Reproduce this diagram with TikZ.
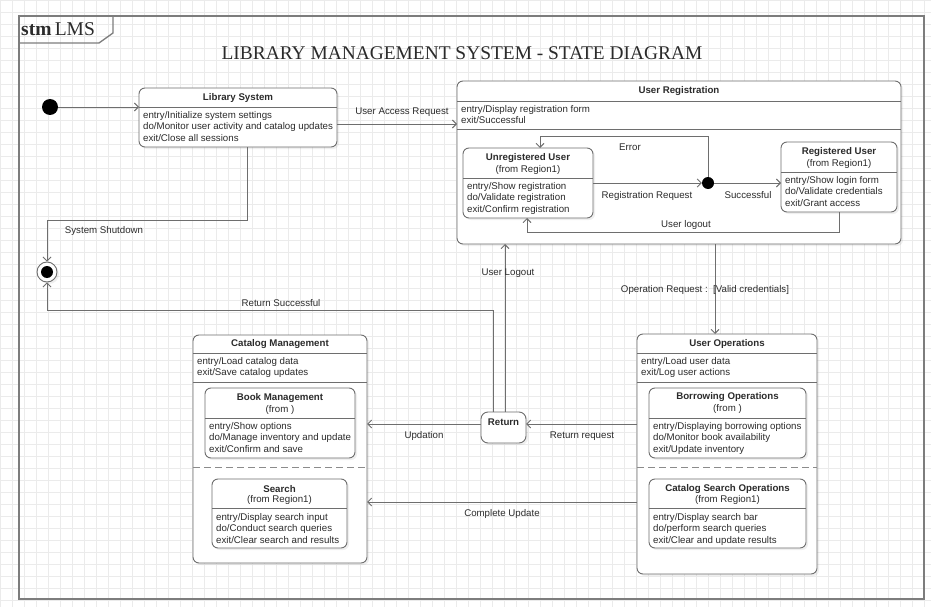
\documentclass[tikz,border=0pt]{standalone}
\usepackage{fontspec}
\setmainfont{Liberation Serif}
\setsansfont{Liberation Sans}
\usetikzlibrary{arrows.meta,shadows}
\definecolor{linec}{HTML}{6E6E6E}
\definecolor{txtc}{HTML}{2B2B2B}
\definecolor{gridc}{HTML}{EBEBEB}

\begin{document}
\begin{tikzpicture}[x=1pt,y=-1pt,
  stbox/.style={draw=linec, fill=white, rounded corners=6pt, line width=0.9pt,
    anchor=north west, inner sep=0pt, outer sep=0pt,
    drop shadow={opacity=0.12, shadow xshift=2pt, shadow yshift=-2pt}},
  sep/.style={draw=linec, line width=0.8pt},
  dsep/.style={draw=linec!80, line width=0.9pt, dash pattern=on 7pt off 4pt},
  ttl/.style={font=\sffamily\bfseries\fontsize{9.7}{11}\selectfont, text=txtc, inner sep=0pt},
  subttl/.style={font=\sffamily\fontsize{9.7}{11}\selectfont, text=txtc, inner sep=0pt, align=center},
  comp/.style={anchor=north west, inner sep=0pt, align=left,
    font=\sffamily\fontsize{9.7}{11.6}\selectfont, text=txtc},
  lbl/.style={font=\sffamily\fontsize{9.7}{11}\selectfont, text=txtc, inner sep=0pt},
  trans/.style={draw=linec, line width=0.9pt, -{Straight Barb[length=4pt,width=8pt]}},
  frame/.style={draw=linec!90, line width=1.3pt}
]
\useasboundingbox (0,0) rectangle (931,607);
\fill[white] (0,0) rectangle (931,607);
\draw[gridc, line width=0.5pt] (0,0) grid[step=12pt] (931,607);

% frame
\draw[frame] (19,16) rectangle (924,599);
\draw[frame] (19,43) -- (99,43) -- (113,33) -- (113,16);
\node[anchor=west, inner sep=0pt, font=\fontsize{19.5}{21}\selectfont, text=txtc] (stm) at (21,29.5) {\textbf{stm}\,LMS};
\node[inner sep=0pt, font=\fontsize{19.4}{21}\selectfont, text=txtc] (title) at (462,53) {LIBRARY MANAGEMENT SYSTEM - STATE DIAGRAM};

% pseudo states
\node[shape=circle, fill=black, minimum size=16pt, inner sep=0pt] (init) at (50,107) {};
\node[shape=circle, draw=linec, fill=white, line width=0.9pt, minimum size=20pt, inner sep=0pt,
  drop shadow={opacity=0.12, shadow xshift=2pt, shadow yshift=-2pt}] (final) at (47,272) {};
\node[shape=circle, fill=black, minimum size=12pt, inner sep=0pt] (finaldot) at (47,272) {};

% Library System
\node[stbox, minimum width=198pt, minimum height=59pt] (lib) at (139,88) {};
\node[ttl] (libttl) at (238,97.5) {Library System};
\draw[sep] ([yshift=-19pt]lib.north west) -- ([yshift=-19pt]lib.north east);
\node[comp] (libtxt) at (143,111) {entry/Initialize system settings\\do/Monitor user activity and catalog updates\\exit/Close all sessions};

% User Registration
\node[stbox, minimum width=444pt, minimum height=163pt] (ur) at (457,81) {};
\node[ttl] (urttl) at (679,91) {User Registration};
\draw[sep] ([yshift=-20pt]ur.north west) -- ([yshift=-20pt]ur.north east);
\node[comp] (urtxt) at (461,105) {entry/Display registration form\\exit/Successful};
\draw[sep] ([yshift=-48pt]ur.north west) -- ([yshift=-48pt]ur.north east);

\node[stbox, minimum width=130pt, minimum height=70pt] (unreg) at (463,148) {};
\node[ttl] (unregttl) at (528,158) {Unregistered User};
\node[subttl] (unregsub) at (528,169.5) {(from Region1)};
\draw[sep] ([yshift=-30pt]unreg.north west) -- ([yshift=-30pt]unreg.north east);
\node[comp] (unregtxt) at (467,182) {entry/Show registration\\do/Validate registration\\exit/Confirm registration};

\node[shape=circle, fill=black, minimum size=12pt, inner sep=0pt] (junc) at (708,183) {};

\node[stbox, minimum width=116pt, minimum height=70pt] (reg) at (781,142) {};
\node[ttl] (regttl) at (839,152) {Registered User};
\node[subttl] (regsub) at (839,163.5) {(from Region1)};
\draw[sep] ([yshift=-30pt]reg.north west) -- ([yshift=-30pt]reg.north east);
\node[comp] (regtxt) at (785,176) {entry/Show login form\\do/Validate credentials\\exit/Grant access};

% Catalog Management
\node[stbox, minimum width=174pt, minimum height=228pt] (catm) at (193,335) {};
\node[ttl] (catmttl) at (280,344) {Catalog Management};
\draw[sep] ([yshift=-18pt]catm.north west) -- ([yshift=-18pt]catm.north east);
\node[comp] (catmtxt) at (197,357) {entry/Load catalog data\\exit/Save catalog updates};
\draw[sep] ([yshift=-47pt]catm.north west) -- ([yshift=-47pt]catm.north east);
\draw[dsep] ([yshift=-132pt]catm.north west) -- ([yshift=-132pt]catm.north east);

\node[stbox, minimum width=150pt, minimum height=70pt] (book) at (205,388) {};
\node[ttl] (bookttl) at (280,398) {Book Management};
\node[subttl] (booksub) at (280,409.5) {(from )};
\draw[sep] ([yshift=-30pt]book.north west) -- ([yshift=-30pt]book.north east);
\node[comp] (booktxt) at (209,422) {entry/Show options\\do/Manage inventory and update\\exit/Confirm and save};

\node[stbox, minimum width=135pt, minimum height=69pt] (search) at (212,479) {};
\node[ttl] (searchttl) at (279.5,489) {Search};
\node[subttl] (searchsub) at (279.5,500) {(from Region1)};
\draw[sep] ([yshift=-29pt]search.north west) -- ([yshift=-29pt]search.north east);
\node[comp] (searchtxt) at (216,513) {entry/Display search input\\do/Conduct search queries\\exit/Clear search and results};

% User Operations
\node[stbox, minimum width=180pt, minimum height=240pt] (uops) at (637,334) {};
\node[ttl] (uopsttl) at (727,344) {User Operations};
\draw[sep] ([yshift=-19pt]uops.north west) -- ([yshift=-19pt]uops.north east);
\node[comp] (uopstxt) at (641,357) {entry/Load user data\\exit/Log user actions};
\draw[sep] ([yshift=-48pt]uops.north west) -- ([yshift=-48pt]uops.north east);
\draw[dsep] ([yshift=-133pt]uops.north west) -- ([yshift=-133pt]uops.north east);

\node[stbox, minimum width=157pt, minimum height=70pt] (borrow) at (649,388) {};
\node[ttl] (borrowttl) at (727.5,397.5) {Borrowing Operations};
\node[subttl] (borrowsub) at (727.5,409) {(from )};
\draw[sep] ([yshift=-30pt]borrow.north west) -- ([yshift=-30pt]borrow.north east);
\node[comp] (borrowtxt) at (653,422) {entry/Displaying borrowing options\\do/Monitor book availability\\exit/Update inventory};

\node[stbox, minimum width=157pt, minimum height=69pt] (csearch) at (649,479) {};
\node[ttl] (csearchttl) at (727.5,489) {Catalog Search Operations};
\node[subttl] (csearchsub) at (727.5,500) {(from Region1)};
\draw[sep] ([yshift=-29pt]csearch.north west) -- ([yshift=-29pt]csearch.north east);
\node[comp] (csearchtxt) at (653,513) {entry/Display search bar\\do/perform search queries\\exit/Clear and update results};

% Return
\node[stbox, rounded corners=7pt, minimum width=45pt, minimum height=31pt] (ret) at (481,412) {};
\node[ttl] (retttl) at (503.5,422.5) {Return};

% bend points
\coordinate (uarc) at (0,124);
\coordinate (errc) at (540,136);
\coordinate (lgc) at (527,232);
\coordinate (sdc) at (247,220);
\coordinate (rsc) at (493,310);
\coordinate (ulc) at (505,0);
\coordinate (orc) at (715,0);
\coordinate (rrc) at (0,424);
\coordinate (cuc) at (0,502);

% transitions
\path[trans] (init.east) -- (lib.west |- init.east);
\path[trans] (lib.east |- uarc) -- (ur.west |- uarc);
\path[trans] (unreg.east |- junc) -- (junc.west);
\path[trans] (junc.east) -- (reg.west |- junc);
\path[trans] (junc.north) |- (errc) -- (errc |- unreg.north);
\path[trans] (reg.south) |- (lgc) -- (lgc |- unreg.south);
\path[trans] (sdc |- lib.south) -- (sdc) -| (final.north);
\path[trans] (rsc |- ret.north) -- (rsc) -| (final.south);
\path[trans] (ulc |- ret.north) -- (ulc |- ur.south);
\path[trans] (orc |- ur.south) -- (orc |- uops.north);
\path[trans] (uops.west |- rrc) -- (ret.east |- rrc);
\path[trans] (ret.west |- rrc) -- (catm.east |- rrc);
\path[trans] (uops.west |- cuc) -- (catm.east |- cuc);

% transition labels
\node[lbl] (uarlbl) at (402,112) {User Access Request};
\node[lbl] (errlbl) at (630,147) {Error};
\node[lbl] (rrqlbl) at (647,196) {Registration Request};
\node[lbl] (succlbl) at (748,195) {Successful};
\node[lbl] (lgtlbl) at (686,225) {User logout};
\node[lbl] (sdlbl) at (104,231) {System Shutdown};
\node[lbl] (rslbl) at (281,303) {Return Successful};
\node[lbl] (ullbl) at (508,273) {User Logout};
\node[lbl] (orlbl) at (705,290) {Operation Request :\ \ [Valid credentials]};
\node[lbl] (retreqlbl) at (582,436) {Return request};
\node[lbl] (updlbl) at (424,436) {Updation};
\node[lbl] (culbl) at (502,514) {Complete Update};
\end{tikzpicture}
\end{document}
